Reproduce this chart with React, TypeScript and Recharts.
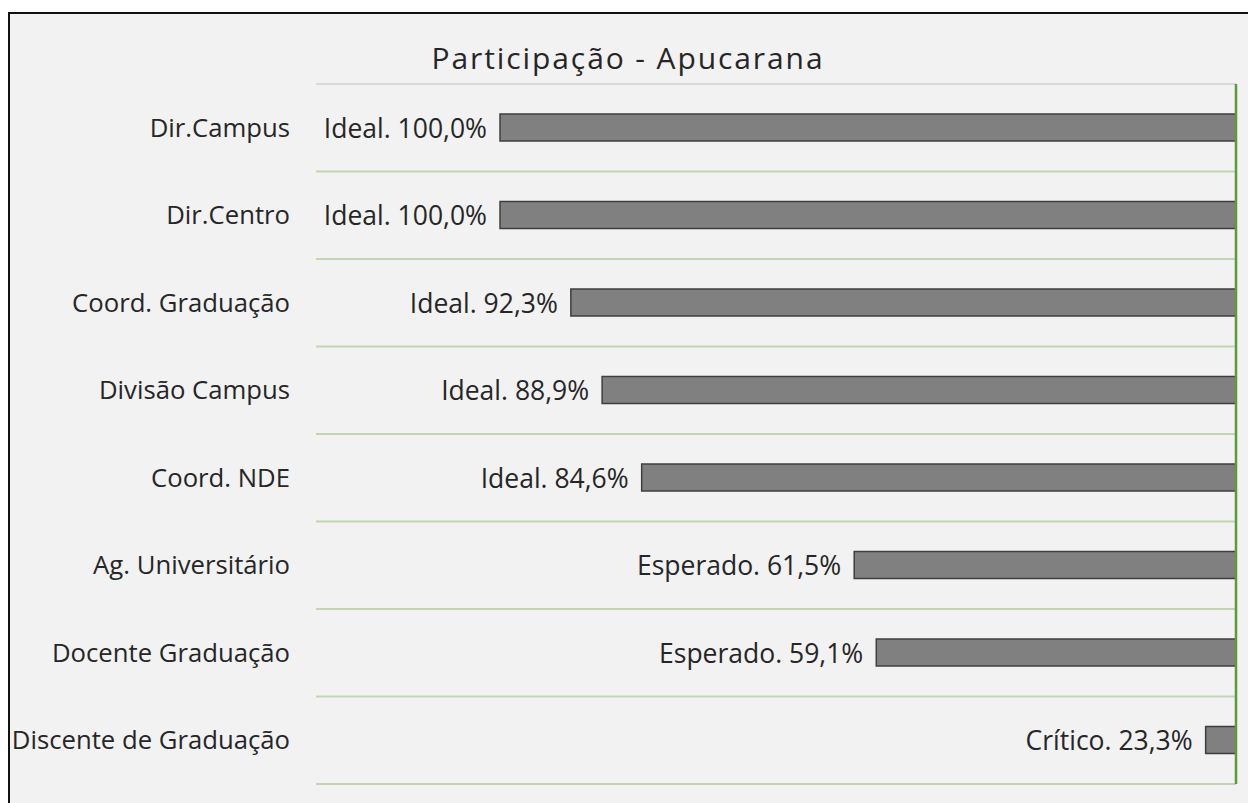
import { Bar, BarChart, CartesianGrid, LabelList, ReferenceLine, XAxis, YAxis } from 'recharts';

const categories = [
  'Dir.Campus',
  'Dir.Centro',
  'Coord. Graduação',
  'Divisão Campus',
  'Coord. NDE',
  'Ag. Universitário',
  'Docente Graduação',
  'Discente de Graduação',
];
const participation = [100.0, 100.0, 92.3, 88.9, 84.6, 61.5, 59.1, 23.3];
const statuses = ['Ideal', 'Ideal', 'Ideal', 'Ideal', 'Ideal', 'Esperado', 'Esperado', 'Crítico'];

const FONT = '"Open Sans", "Noto Sans", sans-serif';
const TEXT = '#262626';

const data = categories.map((name, i) => ({
  name,
  value: participation[i],
  label: `${statuses[i]}. ${participation[i].toFixed(1).replace('.', ',')}%`,
}));

const ValueLabel = (props: any) => {
  const { x, y, width, height, value } = props;
  const left = Math.min(Number(x), Number(x) + Number(width));
  return (
    <text
      x={left - 13}
      y={Number(y) + Number(height) / 2}
      textAnchor="end"
      dominantBaseline="central"
      fill={TEXT}
      fontSize={26.5}
      fontFamily={FONT}
    >
      {value}
    </text>
  );
};

export default function App() {
  const n = categories.length;
  return (
    <div style={{ position: 'fixed', left: 0, top: 0, width: 1248, height: 803, overflow: 'hidden', background: '#fff' }}>
      <div
        style={{
          position: 'absolute',
          left: 8,
          top: 12,
          width: 1260,
          height: 820,
          background: '#f2f2f2',
          borderTop: '2px solid #111',
          borderLeft: '2px solid #111',
        }}
      />
      <div
        style={{
          position: 'absolute',
          left: 8,
          top: 38,
          width: 1240,
          textAlign: 'center',
          fontFamily: FONT,
          fontSize: 30,
          letterSpacing: 1.9,
          color: TEXT,
          lineHeight: '40px',
        }}
      >
        Participação - Apucarana
      </div>
      <div style={{ position: 'absolute', left: 0, top: 0 }}>
        <BarChart
          width={1248}
          height={803}
          data={data}
          layout="vertical"
          margin={{ top: 84, right: 12, bottom: 19, left: 0 }}
        >
          <CartesianGrid
            vertical={false}
            stroke="#c3d5ae"
            strokeWidth={2}
            horizontalCoordinatesGenerator={({ offset }: any) =>
              categories.map((_, i) => offset.top + ((i + 1) * offset.height) / n)
            }
          />
          <CartesianGrid
            vertical={false}
            stroke="#d9d9d9"
            strokeWidth={2}
            horizontalCoordinatesGenerator={({ offset }: any) => [offset.top]}
          />
          <XAxis type="number" domain={[20, 120]} reversed hide />
          <YAxis
            type="category"
            dataKey="name"
            width={316}
            axisLine={false}
            tickLine={false}
            tickSize={0}
            tickMargin={26}
            tick={{ fill: TEXT, fontSize: 25.7, fontFamily: FONT }}
            interval={0}
          />
          <Bar
            dataKey="value"
            fill="#808080"
            stroke="#3f3f3f"
            strokeWidth={1.5}
            barSize={27}
            isAnimationActive={false}
          >
            <LabelList dataKey="label" content={ValueLabel} />
          </Bar>
          <ReferenceLine x={20} stroke="#5e9a3c" strokeWidth={2.5} />
        </BarChart>
      </div>
    </div>
  );
}
